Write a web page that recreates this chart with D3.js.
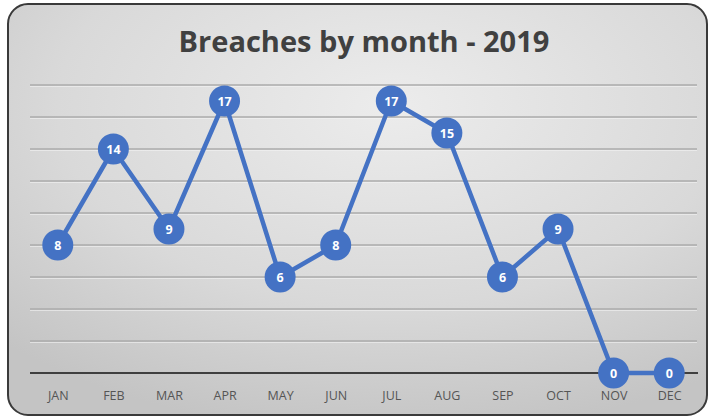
<!DOCTYPE html>
<html><head><meta charset="utf-8">
<script src="https://cdn.jsdelivr.net/npm/d3@7"></script>
<style>html,body{margin:0;padding:0;background:#fff;}svg{display:block;}</style>
</head><body>
<script>
const months = ["JAN","FEB","MAR","APR","MAY","JUN","JUL","AUG","SEP","OCT","NOV","DEC"];
const breaches = [8,14,9,17,6,8,17,15,6,9,0,0];
const gridTicks = [2,4,6,8,10,12,14,16,18];
const title = "Breaches by month - 2019";

const W = 710, H = 416;
const svg = d3.select("body").append("svg").attr("width", W).attr("height", H);
const defs = svg.append("defs");
const rg = defs.append("radialGradient").attr("id","bg").attr("cx","55%").attr("cy","25%").attr("r","80%");
rg.append("stop").attr("offset","0%").attr("stop-color","#ececec");
rg.append("stop").attr("offset","60%").attr("stop-color","#d9d9d9");
rg.append("stop").attr("offset","100%").attr("stop-color","#c4c4c4");

svg.append("rect").attr("x",8).attr("y",4).attr("width",699).attr("height",411)
  .attr("rx",20).attr("ry",20).attr("fill","url(#bg)").attr("stroke","#3a3a3a").attr("stroke-width",2);

const x = d3.scalePoint().domain(months).range([30, 697]).padding(0.5);
const y = d3.scaleLinear().domain([0, 18]).range([373, 85]);

// gridlines
const g = svg.append("g");
g.selectAll("line.hl").data(gridTicks).join("line")
  .attr("x1",30).attr("x2",697).attr("y1",d=>y(d)+1.5).attr("y2",d=>y(d)+1.5)
  .attr("stroke","#f4f4f4").attr("stroke-width",1).attr("opacity",0.6);
g.selectAll("line.gl").data(gridTicks).join("line")
  .attr("x1",30).attr("x2",697).attr("y1",d=>y(d)).attr("y2",d=>y(d))
  .attr("stroke","#ababab").attr("stroke-width",1.5);

// x axis
const xAxis = d3.axisBottom(x).tickSize(0).tickPadding(18);
const ax = svg.append("g").attr("transform","translate(0,373)").call(xAxis);
ax.select(".domain").remove();
ax.selectAll("text").attr("fill","#555555").attr("font-family","'Open Sans', 'Noto Sans', sans-serif")
  .attr("font-size",12.5);
svg.append("line").attr("x1",30).attr("x2",698).attr("y1",373).attr("y2",373)
  .attr("stroke","#3f3f3f").attr("stroke-width",2);

// line
const line = d3.line().x((d,i)=>x(months[i])).y(d=>y(d));
svg.append("path").datum(breaches).attr("d",line).attr("fill","none")
  .attr("stroke","#4472c4").attr("stroke-width",4.5).attr("stroke-linejoin","round");

const pts = svg.append("g").selectAll("g").data(breaches).join("g")
  .attr("transform",(d,i)=>`translate(${x(months[i])},${y(d)})`);
pts.append("circle").attr("r",15.5).attr("fill","#4472c4");
pts.append("text").text(d=>d).attr("text-anchor","middle").attr("dy","0.36em")
  .attr("fill","#ffffff").attr("font-weight","bold").attr("font-size",12.5)
  .attr("font-family","'Open Sans', 'Noto Sans', sans-serif");

// title
const t = svg.append("text").text(title).attr("x",364).attr("y",52).attr("text-anchor","middle")
  .attr("fill","#404040").attr("font-weight","bold").attr("font-size",28)
  .attr("font-family","'Open Sans', 'Noto Sans', sans-serif");
const tw = t.node().getComputedTextLength();
t.attr("font-size", 28 * 371 / tw);
</script>
</body></html>
